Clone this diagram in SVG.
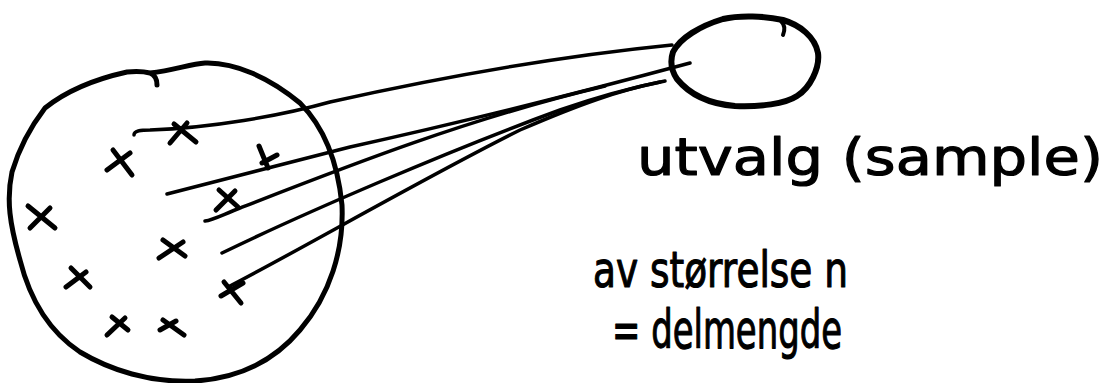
<svg xmlns="http://www.w3.org/2000/svg" width="1111" height="383" viewBox="0 0 1111 383">
  <style>
    .ink { fill: none; stroke: #000; stroke-linecap: round; stroke-linejoin: round; }
    .outline { stroke-width: 5; }
    .line { stroke-width: 3.5; }
    .cross { stroke-width: 5; }
    .label { font-family: "DejaVu Sans", "Liberation Sans", sans-serif; fill: #000; stroke: #000; stroke-width: 1.2; stroke-linejoin: round; }
  </style>
  <rect width="1111" height="383" fill="#fff"/>

  <g id="population">
    <path class="ink outline" d="M150,73 C175,70 190,64 205,63 C235,62 270,78 300,103 C325,128 338,165 342,205 C344,250 330,295 300,330 C275,360 240,378 195,381 C150,383 110,370 80,352 C50,332 30,300 20,260 C10,225 6,200 12,172 C20,145 32,125 45,108 C70,88 100,78 127,72 C138,71 146,72 150,73 C155,75 157,80 157,85"/>
    <g id="crosses" class="ink cross">
      <path d="M170,143 L187,123 M174,124 L196,142"/>
      <path d="M107,170 L130,153 M113,150 L132,175"/>
      <path d="M259,146 L268,168 M262,163 L277,155"/>
      <path d="M216,210 L235,191 M219,190 L238,207"/>
      <path d="M30,228 L50,208 M28,206 L55,228"/>
      <path d="M159,258 L183,242 M163,240 L185,256"/>
      <path d="M66,287 L86,272 M71,268 L90,287"/>
      <path d="M221,296 L243,283 M224,282 L241,303"/>
      <path d="M107,335 L125,318 M112,317 L128,330"/>
      <path d="M160,330 L176,321 M163,320 L184,335"/>
    </g>
  </g>

  <g id="sample">
    <path class="ink" stroke-width="6" d="M673,52 C680,38 700,26 723,19 C740,15 765,16 783,20 C800,25 815,37 818,53 C820,68 810,88 797,96 C785,104 760,107 735,106 C710,104 690,95 677,79 C671,70 670,61 673,52 Z"/>
    <path class="ink" stroke-width="4" d="M781,21 C785,25 785,30 783,35"/>
  </g>

  <g id="connectors" class="ink line">
    <path d="M134,135 C134,131 140,130 150,130 C210,128 280,116 330,102 C420,82 540,58 672,45"/>
    <path d="M167,194 C230,178 290,162 350,147 C450,125 560,98 690,63"/>
    <path d="M205,221 C213,220 222,215 240,208 C350,165 470,118 605,86"/>
    <path d="M222,253 C300,215 450,150 560,110 C600,96 640,86 665,81"/>
    <path d="M228,287 C300,250 420,180 520,130 C580,104 620,90 660,82"/>
  </g>

  <g id="labels" class="label">
    <text x="637" y="175" font-size="52" textLength="466" lengthAdjust="spacingAndGlyphs">utvalg (sample)</text>
    <text x="593" y="287" font-size="50" textLength="255" lengthAdjust="spacingAndGlyphs">av størrelse n</text>
    <text x="612" y="348" font-size="54" textLength="230" lengthAdjust="spacingAndGlyphs">= delmengde</text>
  </g>
</svg>
